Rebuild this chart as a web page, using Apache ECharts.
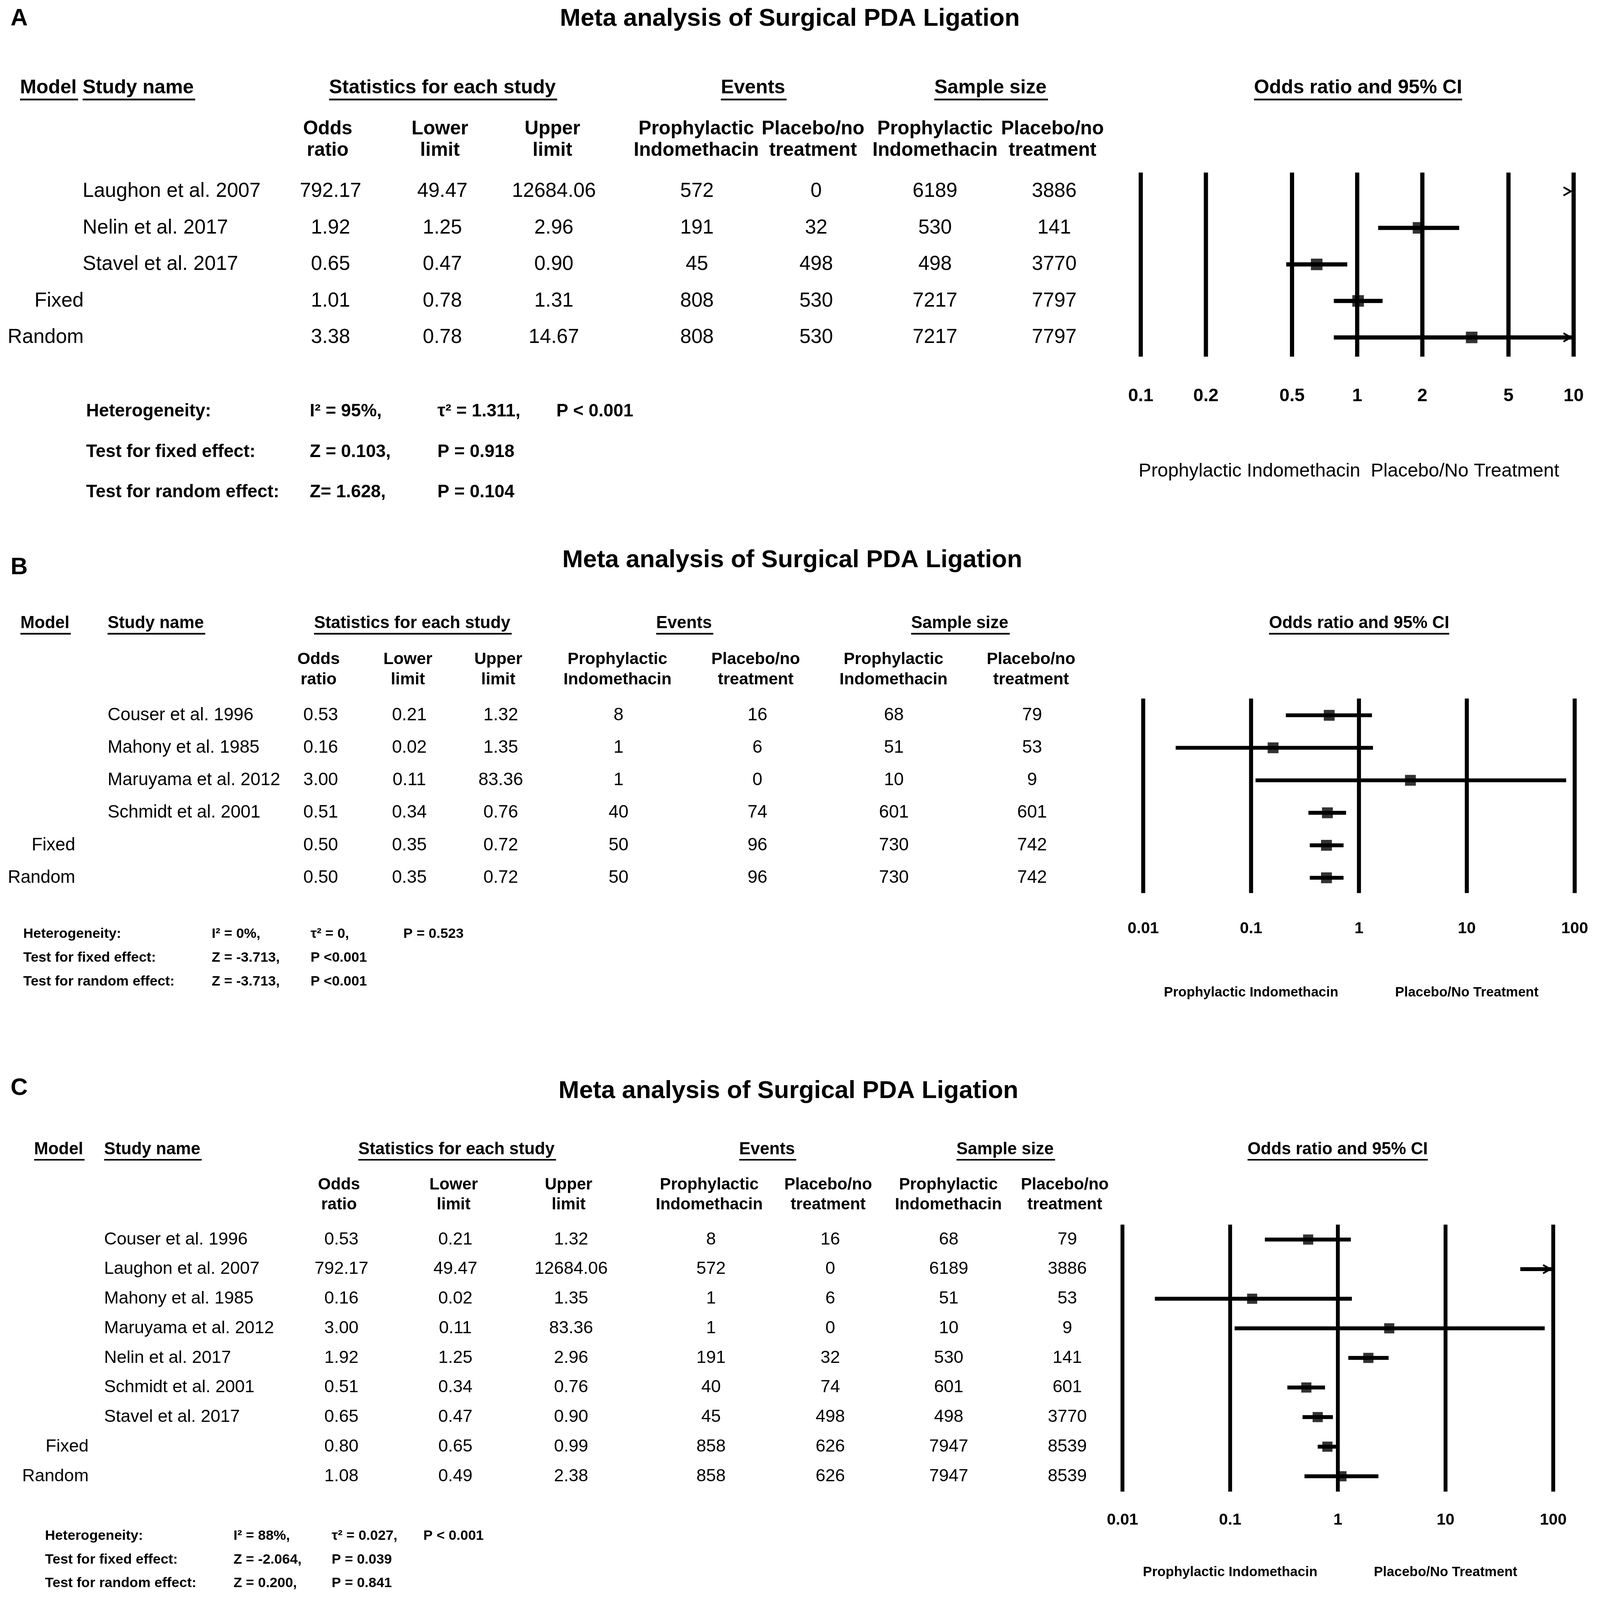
<!DOCTYPE html>
<html><head><meta charset="utf-8">
<script src="https://cdn.jsdelivr.net/npm/echarts@6/dist/echarts.min.js"></script>
<style>html,body{margin:0;padding:0;background:#fff;overflow:hidden}#c{position:absolute;left:0;top:0}</style>
</head><body><div id="c"></div>
<script>
// ---------------- DATA ----------------
const titleText = 'Meta analysis of Surgical PDA Ligation';
const headerText = ['Model', 'Study name', 'Statistics for each study', 'Events', 'Sample size'];
const ciTitle = 'Odds ratio and 95% CI';
const subHdr1 = ['Odds', 'Lower', 'Upper', 'Prophylactic', 'Placebo/no', 'Prophylactic', 'Placebo/no'];
const subHdr2 = ['ratio', 'limit', 'limit', 'Indomethacin', 'treatment', 'Indomethacin', 'treatment'];
const sideLabels = ['Prophylactic Indomethacin', 'Placebo/No Treatment'];

// Panel A
const modelA = ['', '', '', 'Fixed', 'Random'];
const studyA = ['Laughon et al. 2007', 'Nelin et al. 2017', 'Stavel et al. 2017', '', ''];
const orA = [792.17, 1.92, 0.65, 1.01, 3.38];
const lowA = [49.47, 1.25, 0.47, 0.78, 0.78];
const upA = [12684.06, 2.96, 0.90, 1.31, 14.67];
const evTxA = [572, 191, 45, 808, 808];
const evCtA = [0, 32, 498, 530, 530];
const nTxA = [6189, 530, 498, 7217, 7217];
const nCtA = [3886, 141, 3770, 7797, 7797];
const ticksA = [0.1, 0.2, 0.5, 1, 2, 5, 10];
const hetA = [['Heterogeneity:', 'I² = 95%,', 'τ² = 1.311,', 'P < 0.001'],
              ['Test for fixed effect:', 'Z = 0.103,', 'P = 0.918'],
              ['Test for random effect:', 'Z= 1.628,', 'P = 0.104']];

// Panel B
const modelB = ['', '', '', '', 'Fixed', 'Random'];
const studyB = ['Couser et al. 1996', 'Mahony et al. 1985', 'Maruyama et al. 2012', 'Schmidt et al. 2001', '', ''];
const orB = [0.53, 0.16, 3.00, 0.51, 0.50, 0.50];
const lowB = [0.21, 0.02, 0.11, 0.34, 0.35, 0.35];
const upB = [1.32, 1.35, 83.36, 0.76, 0.72, 0.72];
const evTxB = [8, 1, 1, 40, 50, 50];
const evCtB = [16, 6, 0, 74, 96, 96];
const nTxB = [68, 51, 10, 601, 730, 730];
const nCtB = [79, 53, 9, 601, 742, 742];
const ticksB = [0.01, 0.1, 1, 10, 100];
const hetB = [['Heterogeneity:', 'I² = 0%,', 'τ² = 0,', 'P = 0.523'],
              ['Test for fixed effect:', 'Z = -3.713,', 'P <0.001'],
              ['Test for random effect:', 'Z = -3.713,', 'P <0.001']];

// Panel C
const modelC = ['', '', '', '', '', '', '', 'Fixed', 'Random'];
const studyC = ['Couser et al. 1996', 'Laughon et al. 2007', 'Mahony et al. 1985', 'Maruyama et al. 2012',
                'Nelin et al. 2017', 'Schmidt et al. 2001', 'Stavel et al. 2017', '', ''];
const orC = [0.53, 792.17, 0.16, 3.00, 1.92, 0.51, 0.65, 0.80, 1.08];
const lowC = [0.21, 49.47, 0.02, 0.11, 1.25, 0.34, 0.47, 0.65, 0.49];
const upC = [1.32, 12684.06, 1.35, 83.36, 2.96, 0.76, 0.90, 0.99, 2.38];
const evTxC = [8, 572, 1, 1, 191, 40, 45, 858, 858];
const evCtC = [16, 0, 6, 0, 32, 74, 498, 626, 626];
const nTxC = [68, 6189, 51, 10, 530, 601, 498, 7947, 7947];
const nCtC = [79, 3886, 53, 9, 141, 601, 3770, 8539, 8539];
const ticksC = [0.01, 0.1, 1, 10, 100];
const hetC = [['Heterogeneity:', 'I² = 88%,', 'τ² = 0.027,', 'P < 0.001'],
              ['Test for fixed effect:', 'Z = -2.064,', 'P = 0.039'],
              ['Test for random effect:', 'Z = 0.200,', 'P = 0.841']];

// ---------------- LAYOUT (in a 4550 x 4590 reference frame) ----------------
const REF_W = 4550, REF_H = 4590;
const W = window.innerWidth || REF_W, H = window.innerHeight || REF_H;
const SX = W / REF_W, SY = H / REF_H, SF = Math.sqrt(SX * SY);
const X = v => v * SX, Y = v => v * SY, F = v => v * SF;

const FF = '"Liberation Sans", Arial, Helvetica, sans-serif';
const panels = [
  { letter: 'A', model: modelA, study: studyA, or: orA, lo: lowA, hi: upA, c1: evTxA, c2: evCtA, c3: nTxA, c4: nCtA,
    ticks: ticksA, het: hetA,
    grid: { left: 3244, top: 495, width: 1231, height: 528 }, yr: [-0.515, 4.525],
    letterPos: [30, 54], titlePos: [2246, 54],
    hdrY: 252, hdrFont: 56, hdrX: [57, 235, 936, 2050, 2657], ciX: 3862, ulW: 5,
    subY: [370, 432], subFont: 55, subX: [932, 1251, 1571, 1980, 2312, 2659, 2993],
    dataFont: 57.5, valX: [940, 1258, 1575, 1982, 2321, 2659, 2998], nameX: 235, modelR: 238,
    hetY: [1181, 1297, 1412], hetX: [245, 881, 1244, 1582], hetFont: 51,
    tickFont: 52, tickOff: 114,
    botY: 1352, botFont: 54, botBold: false, botSingle: 3836,
    sq: 33, lw: 12, vlw: 12 },
  { letter: 'B', model: modelB, study: studyB, or: orB, lo: lowB, hi: upB, c1: evTxB, c2: evCtB, c3: nTxB, c4: nCtB,
    ticks: ticksB, het: hetB,
    grid: { left: 3251, top: 2004, width: 1227, height: 558 }, yr: [-0.515, 5.47],
    letterPos: [30, 1629], titlePos: [2253, 1607],
    hdrY: 1789, hdrFont: 48.5, hdrX: [58, 306, 893, 1866, 2591], ciX: 3865, ulW: 4.5,
    subY: [1892, 1950], subFont: 47.5, subX: [906, 1160, 1417, 1756, 2149, 2541, 2932],
    dataFont: 51, valX: [912, 1164, 1424, 1759, 2154, 2542, 2935], nameX: 306, modelR: 214,
    hetY: [2679, 2748, 2816], hetX: [66, 602, 883, 1147], hetFont: 40,
    tickFont: 46, tickOff: 102,
    botY: 2848, botFont: 39, botBold: true, botSingle: null,
    sq: 31, lw: 11, vlw: 11.5 },
  { letter: 'C', model: modelC, study: studyC, or: orC, lo: lowC, hi: upC, c1: evTxC, c2: evCtC, c3: nTxC, c4: nCtC,
    ticks: ticksC, het: hetC,
    grid: { left: 3192, top: 3513, width: 1225, height: 766 }, yr: [-0.506, 8.518],
    letterPos: [30, 3122], titlePos: [2242, 3130],
    hdrY: 3298, hdrFont: 48.5, hdrX: [97, 296, 1019, 2102, 2720], ciX: 3804, ulW: 4.5,
    subY: [3399, 3456], subFont: 47, subX: [964, 1290, 1617, 2017, 2355, 2697, 3028],
    dataFont: 50.2, valX: [971, 1295, 1624, 2022, 2361, 2698, 3035], nameX: 296, modelR: 252,
    hetY: [4406, 4475, 4542], hetX: [128, 664, 943, 1204], hetFont: 40,
    tickFont: 46, tickOff: 82,
    botY: 4511, botFont: 39, botBold: true, botSingle: null,
    sq: 29, lw: 11, vlw: 11 }
];

// ---------------- HELPERS ----------------
const mctx = document.createElement('canvas').getContext('2d');
function fontStr(size, bold) { return (bold ? 'bold ' : '') + size.toFixed(2) + 'px ' + FF; }
function textW(s, size, bold) { mctx.font = fontStr(size, bold); return mctx.measureText(s).width; }
// x, y, size already in screen pixels
function tEl(x, y, s, size, bold, align) {
  return { type: 'text', silent: true,
    style: { x: x, y: y, text: s, fill: '#000', font: fontStr(size, bold), align: align || 'left', verticalAlign: 'middle' } };
}
function fmt2(v) { return v.toFixed(2); }

const graphics = [];
const grids = [], xAxes = [], yAxes = [], series = [];

panels.forEach((P, k) => {
  const xmin = P.ticks[0], xmax = P.ticks[P.ticks.length - 1];
  grids.push({ left: X(P.grid.left), top: Y(P.grid.top), width: X(P.grid.width), height: Y(P.grid.height), containLabel: false });
  xAxes.push({ type: 'log', logBase: 10, gridIndex: k, min: xmin, max: xmax, show: false });
  yAxes.push({ type: 'value', gridIndex: k, min: P.yr[0], max: P.yr[1], inverse: true, show: false });

  // panel letter + title
  graphics.push(tEl(X(P.letterPos[0]), Y(P.letterPos[1]), P.letter, F(68), true, 'left'));
  graphics.push(tEl(X(P.titlePos[0]), Y(P.titlePos[1]), titleText, F(71), true, 'center'));

  // headers with underline
  const hf = F(P.hdrFont);
  headerText.forEach((h, j) => {
    const x = X(P.hdrX[j]);
    graphics.push(tEl(x, Y(P.hdrY), h, hf, true, 'left'));
    const w = textW(h, hf, true);
    graphics.push({ type: 'rect', silent: true, shape: { x: x, y: Y(P.hdrY) + 0.55 * hf, width: w + F(4), height: F(P.ulW) }, style: { fill: '#000' } });
  });
  {
    const w = textW(ciTitle, hf, true);
    graphics.push(tEl(X(P.ciX), Y(P.hdrY), ciTitle, hf, true, 'center'));
    graphics.push({ type: 'rect', silent: true, shape: { x: X(P.ciX) - w / 2, y: Y(P.hdrY) + 0.55 * hf, width: w, height: F(P.ulW) }, style: { fill: '#000' } });
  }
  // sub headers
  subHdr1.forEach((s, j) => {
    graphics.push(tEl(X(P.subX[j]), Y(P.subY[0]), s, F(P.subFont), true, 'center'));
    graphics.push(tEl(X(P.subX[j]), Y(P.subY[1]), subHdr2[j], F(P.subFont), true, 'center'));
  });
  // heterogeneity block
  P.het.forEach((line, r) => {
    line.forEach((s, j) => graphics.push(tEl(X(P.hetX[j]), Y(P.hetY[r]), s, F(P.hetFont), true, 'left')));
  });
  if (P.botSingle !== null) {
    graphics.push(tEl(X(P.botSingle), Y(P.botY), sideLabels[0] + '  ' + sideLabels[1], F(P.botFont), P.botBold, 'center'));
  }

  const rows = P.or.map((_, i) => i);

  // vertical reference lines + tick labels (through the log x scale)
  series.push({
    type: 'custom', xAxisIndex: k, yAxisIndex: k, silent: true, clip: false, z: 2,
    data: P.ticks.map(v => [v, 0]),
    encode: { x: 0, y: 1 },
    renderItem: function (params, api) {
      const v = api.value(0);
      const x = api.coord([v, 0])[0];
      const cs = params.coordSys;
      return { type: 'group', children: [
        { type: 'line', shape: { x1: x, y1: cs.y, x2: x, y2: cs.y + cs.height }, style: { stroke: '#000', lineWidth: F(P.vlw), lineCap: 'butt' } },
        tEl(x, cs.y + cs.height + Y(P.tickOff), String(v), F(P.tickFont), true, 'center')
      ] };
    }
  });

  // side labels under the axis placed at 0.1 and 10
  if (P.botSingle === null) {
    series.push({
      type: 'custom', xAxisIndex: k, yAxisIndex: k, silent: true, clip: false,
      data: [[0.1, 0, 0], [10, 0, 1]],
      encode: { x: 0, y: 1 },
      renderItem: function (params, api) {
        const x = api.coord([api.value(0), 0])[0];
        return tEl(x, Y(P.botY), sideLabels[api.value(2)], F(P.botFont), P.botBold, 'center');
      }
    });
  }

  // confidence intervals
  series.push({
    type: 'custom', xAxisIndex: k, yAxisIndex: k, silent: true, clip: false, z: 3,
    data: rows.map(i => [P.lo[i], P.hi[i], i]),
    encode: { x: [0, 1], y: 2 },
    renderItem: function (params, api) {
      const lo = api.value(0), hi = api.value(1), r = api.value(2);
      const children = [];
      const loC = Math.max(lo, xmin), hiC = Math.min(hi, xmax);
      const y = api.coord([1, r])[1];
      if (loC < hiC) {
        const x1 = api.coord([loC, r])[0], x2 = api.coord([hiC, r])[0];
        children.push({ type: 'line', shape: { x1: x1, y1: y, x2: x2, y2: y }, style: { stroke: '#000', lineWidth: F(P.lw), lineCap: 'butt' } });
      }
      if (hi > xmax) {
        const xe = api.coord([xmax, r])[0] - F(8);
        const a = F(21), b = F(12);
        children.push({ type: 'polyline', shape: { points: [[xe - a, y - b], [xe, y], [xe - a, y + b]] }, style: { stroke: '#000', fill: null, lineWidth: F(5), lineJoin: 'miter' } });
      }
      return { type: 'group', children: children };
    }
  });

  // point estimates
  series.push({
    type: 'scatter', xAxisIndex: k, yAxisIndex: k, silent: true, z: 4,
    symbol: 'rect', symbolSize: F(P.sq), itemStyle: { color: '#000' },
    data: rows.filter(i => P.or[i] <= xmax && P.or[i] >= xmin).map(i => [P.or[i], i])
  });

  // table text, rows placed by the same y scale
  series.push({
    type: 'custom', xAxisIndex: k, yAxisIndex: k, silent: true, clip: false,
    data: rows.map(i => [1, i]),
    encode: { x: 0, y: 1 },
    renderItem: function (params, api) {
      const i = api.value(1);
      const y = api.coord([1, i])[1];
      const f = F(P.dataFont);
      const vals = [fmt2(P.or[i]), fmt2(P.lo[i]), fmt2(P.hi[i]), String(P.c1[i]), String(P.c2[i]), String(P.c3[i]), String(P.c4[i])];
      const ch = [];
      if (P.model[i]) ch.push(tEl(X(P.modelR), y, P.model[i], f, false, 'right'));
      if (P.study[i]) ch.push(tEl(X(P.nameX), y, P.study[i], f, false, 'left'));
      vals.forEach((s, j) => ch.push(tEl(X(P.valX[j]), y, s, f, false, 'center')));
      return { type: 'group', children: ch };
    }
  });
});

const el = document.getElementById('c');
el.style.width = W + 'px';
el.style.height = H + 'px';
const chart = echarts.init(el, null, { renderer: 'canvas', width: W, height: H });
chart.setOption({
  backgroundColor: '#fff',
  animation: false,
  grid: grids,
  xAxis: xAxes,
  yAxis: yAxes,
  series: series,
  graphic: { elements: graphics }
});
</script>
</body></html>
